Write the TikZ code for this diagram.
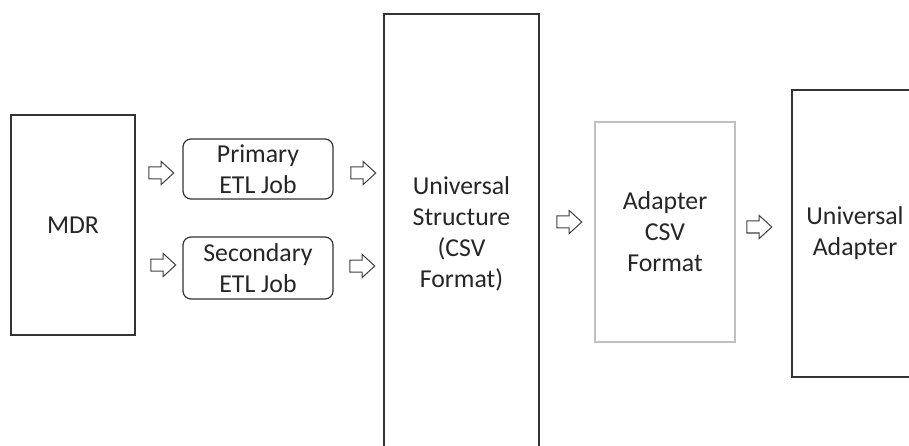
\documentclass[tikz,border=0pt]{standalone}
\usepackage{fontspec}
\setmainfont{Carlito}
\usetikzlibrary{shapes.arrows}
\tikzset{
  box/.style={draw=black!80, line width=1.5pt, fill=white, align=center, inner sep=0pt},
  lightbox/.style={draw=black!25, line width=1.2pt, fill=white, align=center, inner sep=0pt},
  jobbox/.style={draw=black!80, line width=1.2pt, rounded corners=8pt, align=center, inner sep=0pt, minimum width=150pt},
  flowarrow/.style={single arrow, draw=black!75, line width=1pt, inner sep=0pt, text height=11pt, text depth=0pt, text width=0pt, minimum height=25pt, single arrow head extend=5.5pt, single arrow tip angle=85},
  txt/.style={font=\fontsize{25.8pt}{31pt}\selectfont, text=black!85}
}
\begin{document}
\begin{tikzpicture}[x=1pt,y=-1pt]
\useasboundingbox (0,0) rectangle (909,446);
\clip (0,0) rectangle (909,446);
\fill[white] (0,0) rectangle (909,446);
\node[box, txt, minimum width=124pt, minimum height=220pt] (mdr) at (73,225) {MDR};
\node[jobbox, txt, minimum height=60pt] (prim) at (258,169) {Primary\\ETL Job};
\node[jobbox, txt, minimum height=62pt] (sec) at (258,268) {Secondary\\ETL Job};
\node[box, txt, minimum width=155pt, minimum height=440pt] (us) at (461.5,234) {Universal\\Structure\\(CSV\\Format)};
\node[lightbox, txt, minimum width=140pt, minimum height=220pt] (acsv) at (665,232) {Adapter\\CSV\\Format};
\node[box, txt, minimum width=126pt, minimum height=287pt] (ua) at (855,233.5) {Universal\\Adapter};
\node[flowarrow] (a1) at (158,173) {};
\node[flowarrow] (a2) at (160,265) {};
\node[flowarrow] (a3) at (360,173) {};
\node[flowarrow] (a4) at (359,266) {};
\node[flowarrow] (a5) at (566,222) {};
\node[flowarrow] (a6) at (756,227) {};
\end{tikzpicture}
\end{document}
